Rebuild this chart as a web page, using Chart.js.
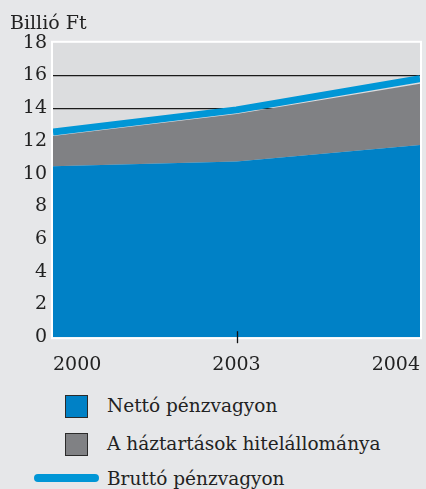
<!DOCTYPE html>
<html>
<head>
<meta charset="utf-8">
<script src="https://cdn.jsdelivr.net/npm/chart.js@4.4.1/dist/chart.umd.min.js"></script>
<style>
  html, body { margin: 0; padding: 0; background: #e6e7e9; }
  #wrap { position: relative; width: 426px; height: 489px; overflow: hidden; }
  #chart { position: absolute; left: 0; top: 0; }
  .item { position: absolute; left: 107px; font: 18.5px "DejaVu Serif", serif; color: #222; white-space: nowrap; }
  .box { position: absolute; width: 21px; height: 21px; border: 1.5px solid #2b2b2b; }
  .line { position: absolute; height: 8px; border-radius: 4px; }
</style>
</head>
<body>
<div id="wrap">
  <canvas id="chart" width="426" height="384"></canvas>
  <div id="legend"></div>
</div>
<script>
const years = ['2000', '2003', '2004']
const netto = [10.45, 10.75, 11.75]
const hitel = [1.85, 2.9, 3.75]
const brutto = [12.55, 13.9, 15.8]
const yTicks = [0, 2, 4, 6, 8, 10, 12, 14, 16, 18]

const COLORS = {
  netto: '#0081c6',
  hitel: '#808184',
  brutto: '#0096d6',
  plot: '#dcdddf'
}

const FONT = { family: '"DejaVu Serif", serif', size: 19, weight: 'normal' }

// white frame + grey plot background
const plotBg = {
  id: 'plotBg',
  beforeDraw(chart) {
    const { ctx, chartArea: a } = chart
    ctx.save()
    ctx.fillStyle = '#ffffff'
    ctx.fillRect(a.left - 2, a.top - 2, a.width + 4, a.height + 4)
    ctx.fillStyle = COLORS.plot
    ctx.fillRect(a.left, a.top, a.width, a.height)
    ctx.restore()
  }
}

// single tick mark at the middle category
const midTick = {
  id: 'midTick',
  afterDatasetsDraw(chart) {
    const { ctx, chartArea: a, scales } = chart
    const x = Math.round(scales.x.getPixelForValue(1)) + 0.5
    ctx.save()
    ctx.strokeStyle = '#111'
    ctx.lineWidth = 1.3
    ctx.beginPath()
    ctx.moveTo(x, a.bottom - 6)
    ctx.lineTo(x, a.bottom + 6)
    ctx.stroke()
    ctx.restore()
  }
}

// brutto first so it is drawn on top; netto + hitel stack together
const data = {
  labels: years,
  datasets: [
    {
      label: 'Bruttó pénzvagyon',
      data: brutto,
      borderColor: COLORS.brutto,
      borderWidth: 7,
      pointRadius: 0,
      fill: false,
      stack: 'b',
      clip: 0
    },
    {
      label: 'Nettó pénzvagyon',
      data: netto,
      backgroundColor: COLORS.netto,
      borderWidth: 0,
      pointRadius: 0,
      fill: 'origin',
      stack: 'a'
    },
    {
      label: 'A háztartások hitelállománya',
      data: hitel,
      backgroundColor: COLORS.hitel,
      borderWidth: 0,
      pointRadius: 0,
      fill: '-1',
      stack: 'a'
    }
  ]
}

const config = {
  type: 'line',
  data: data,
  options: {
    responsive: false,
    animation: false,
    layout: { padding: { left: 10, right: 6, top: 0, bottom: 0 } },
    plugins: {
      legend: { display: false },
      tooltip: { enabled: false },
      title: {
        display: true,
        text: 'Billió Ft',
        align: 'start',
        color: '#222',
        font: FONT,
        padding: { top: 13, bottom: 7 }
      }
    },
    scales: {
      x: {
        offset: false,
        border: { display: false },
        grid: { display: false },
        ticks: { color: '#222', font: FONT, align: 'inner', padding: 8, maxRotation: 0 },
        afterFit(scale) {
          scale.paddingLeft = 0
          scale.paddingRight = 0
        }
      },
      y: {
        stacked: true,
        min: 0,
        max: 18,
        afterBuildTicks(scale) { scale.ticks = yTicks.map(v => ({ value: v })) },
        afterFit(scale) { scale.width = 43 },
        border: { display: false },
        grid: {
          drawTicks: false,
          lineWidth: 1.3,
          color: c => (c.tick.value === 0 || c.tick.value === 18) ? 'rgba(0,0,0,0)' : '#1a1a1a'
        },
        ticks: { color: '#222', font: FONT, padding: 6 }
      }
    }
  },
  plugins: [plotBg, midTick]
}

const myChart = new Chart(document.getElementById('chart'), config)

// legend below the chart
const legend = document.getElementById('legend')
const rows = [
  { top: 395, kind: 'box', ds: 1 },
  { top: 433, kind: 'box', ds: 2 },
  { top: 468, kind: 'line', ds: 0 }
]
rows.forEach(r => {
  const ds = data.datasets[r.ds]
  const mark = document.createElement('div')
  if (r.kind === 'box') {
    mark.className = 'box'
    mark.style.left = '65px'
    mark.style.top = r.top + 'px'
    mark.style.background = ds.backgroundColor
  } else {
    mark.className = 'line'
    mark.style.left = '34px'
    mark.style.width = '65px'
    mark.style.top = (r.top + 6) + 'px'
    mark.style.background = ds.borderColor
  }
  legend.appendChild(mark)
  const txt = document.createElement('div')
  txt.className = 'item'
  txt.style.top = r.top + 'px'
  txt.textContent = ds.label
  legend.appendChild(txt)
})
</script>
</body>
</html>
